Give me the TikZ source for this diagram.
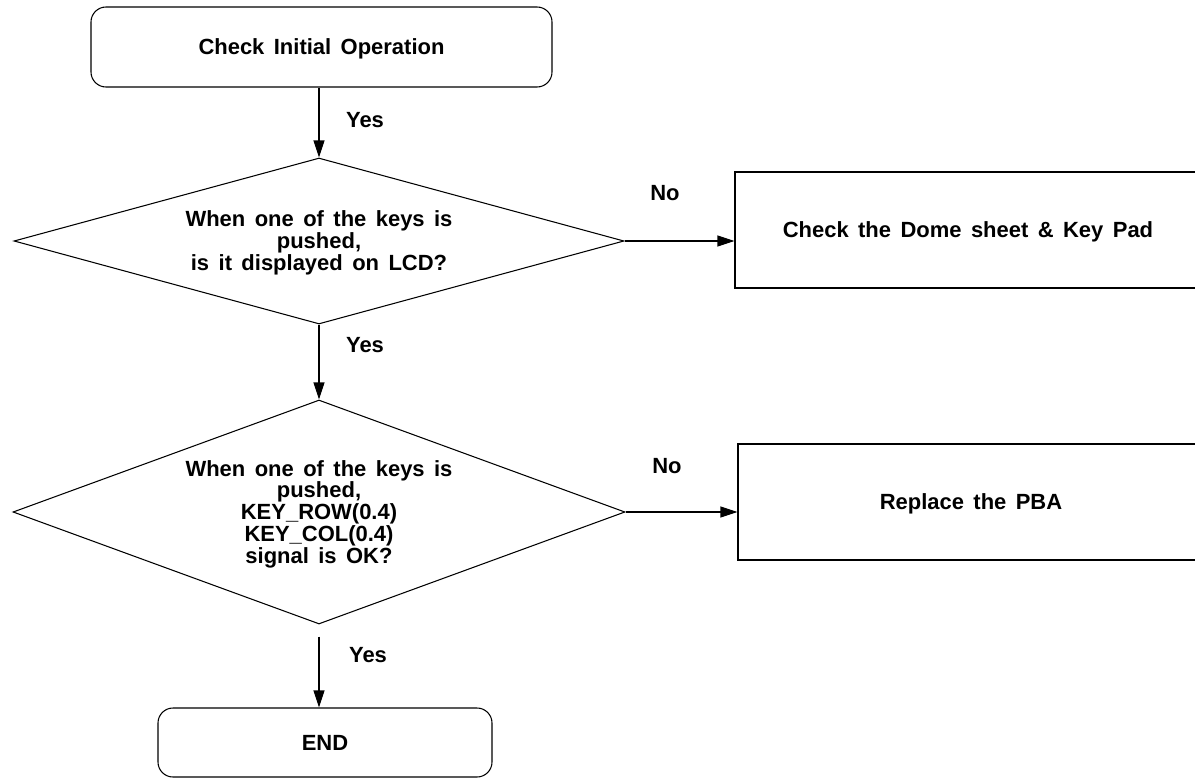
\documentclass[tikz,border=0pt]{standalone}
\usepackage{fontspec}
\setmainfont{Liberation Sans}
\usetikzlibrary{shapes.geometric,arrows.meta}
\newcommand{\flowfont}{\fontsize{12.5}{12.5}\selectfont\bfseries\spaceskip 0.43em\relax}
\begin{document}
\begin{tikzpicture}[line width=0.6pt,
        every node/.style={font=\flowfont, text depth=0pt},
        roundbox/.style={draw, rounded corners=0.3cm, inner sep=0pt},
        plainbox/.style={draw, inner sep=0pt},
        decision/.style={draw, diamond, inner sep=0pt, align=center},
        flow/.style={-{Triangle[length=0.34cm,width=0.22cm]}}]
            \useasboundingbox (0,0) rectangle (23.9,-15.56);
            \node[roundbox, minimum width=9.22cm, minimum height=1.6cm] (start) at (6.43,-0.94) {Check Initial Operation};
            \node[decision, aspect=3.67, minimum width=12.2cm, minimum height=3.32cm] (lcd) at (6.38,-4.82) {When one of the keys is\\pushed,\\is it displayed on LCD?};
            \node[plainbox, minimum width=9.32cm, minimum height=2.32cm] (dome) at (19.36,-4.6) {Check the Dome sheet \& Key Pad};
            \node[decision, aspect=2.73, minimum width=12.24cm, minimum height=4.48cm] (signal) at (6.38,-10.24) {When one of the keys is\\pushed,\\KEY\_ROW(0.4)\\KEY\_COL(0.4)\\signal is OK?};
            \node[plainbox, minimum width=9.32cm, minimum height=2.32cm] (pba) at (19.42,-10.04) {Replace the PBA};
            \node[roundbox, minimum width=6.68cm, minimum height=1.38cm] (stop) at (6.5,-14.85) {END};
            \draw[flow] (start.south -| lcd.north) -- (lcd.north);
            \draw[flow] (lcd.south) -- (signal.north);
            \draw[flow] (lcd.east) -- (lcd.east -| dome.west);
            \draw[flow] (signal.east) -- (signal.east -| pba.west);
            \draw[flow, shorten <=0.24cm] (signal.south) -- (signal.south |- stop.north);
            \node (yes1) at (7.3,-2.4) {Yes};
            \node (yes2) at (7.3,-6.9) {Yes};
            \node (yes3) at (7.36,-13.1) {Yes};
            \node (no1) at (13.3,-3.86) {No};
            \node (no2) at (13.34,-9.32) {No};
        \end{tikzpicture}
\end{document}
